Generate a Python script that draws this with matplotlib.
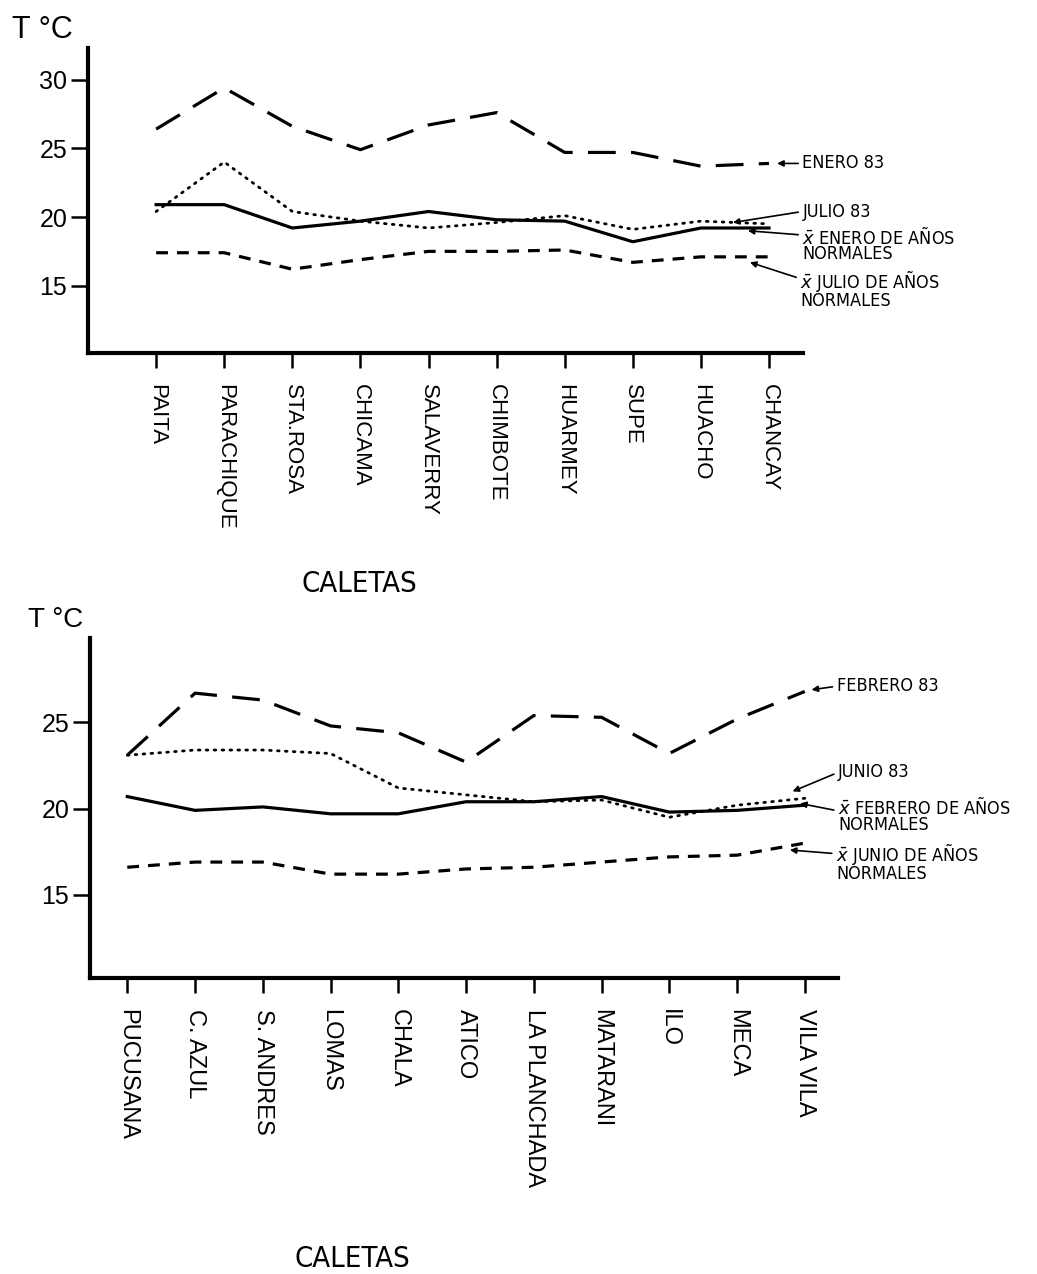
import matplotlib
matplotlib.use("Agg")
import matplotlib.pyplot as plt

plt.rcParams['font.family'] = ['Liberation Sans', 'DejaVu Sans']
plt.rcParams['lines.scale_dashes'] = False

# temperatura superficial del mar por caleta
caletas_norte = ["PAITA", "PARACHIQUE", "STA.ROSA", "CHICAMA", "SALAVERRY",
                 "CHIMBOTE", "HUARMEY", "SUPE", "HUACHO", "CHANCAY"]
enero_83 = [26.4, 29.4, 26.6, 24.9, 26.7, 27.6, 24.7, 24.7, 23.7, 23.9]
julio_83 = [20.4, 24.0, 20.4, 19.7, 19.2, 19.6, 20.1, 19.1, 19.7, 19.5]
enero_normal = [20.9, 20.9, 19.2, 19.7, 20.4, 19.8, 19.7, 18.2, 19.2, 19.2]
julio_normal = [17.4, 17.4, 16.2, 16.9, 17.5, 17.5, 17.6, 16.7, 17.1, 17.1]

caletas_sur = ["PUCUSANA", "C. AZUL", "S. ANDRES", "LOMAS", "CHALA", "ATICO",
               "LA PLANCHADA", "MATARANI", "ILO", "MECA", "VILA VILA"]
febrero_83 = [23.1, 26.7, 26.3, 24.8, 24.4, 22.7, 25.4, 25.3, 23.2, 25.2, 26.8]
junio_83 = [23.1, 23.4, 23.4, 23.2, 21.2, 20.8, 20.4, 20.5, 19.5, 20.2, 20.6]
febrero_normal = [20.7, 19.9, 20.1, 19.7, 19.7, 20.4, 20.4, 20.7, 19.8, 19.9, 20.2]
junio_normal = [16.6, 16.9, 16.9, 16.2, 16.2, 16.5, 16.6, 16.9, 17.2, 17.3, 18.0]

LARGA = dict(color='black', lw=2.3, dashes=(20, 11), dash_capstyle='butt')
PUNTOS = dict(color='black', lw=2.0, dashes=(1.2, 4.5), dash_capstyle='round')
CONTINUA = dict(color='black', lw=2.3, solid_joinstyle='round')
CORTA = dict(color='black', lw=2.3, dashes=(8.5, 6.5), dash_capstyle='butt')

ESTRECHA = dict(family='DejaVu Sans', stretch='condensed')
NOTA = dict(fontsize=13, ha='left', va='center', annotation_clip=False,
            linespacing=0.85, **ESTRECHA)


def flecha(rel):
    return dict(arrowstyle='-|>', color='black', lw=1.2, mutation_scale=9,
                shrinkA=1, shrinkB=0, relpos=rel)


def preparar(ax, nombres, yticks, tam):
    x = range(len(nombres))
    ax.set_xticks(list(x))
    ax.set_xticklabels(nombres, rotation=-90, fontsize=tam)
    ax.set_yticks(yticks)
    ax.set_yticklabels([str(v) for v in yticks], fontsize=18)
    for lado in ('top', 'right'):
        ax.spines[lado].set_visible(False)
    for lado in ('left', 'bottom'):
        ax.spines[lado].set_linewidth(3)
    ax.tick_params(axis='x', length=11, width=1.8, pad=11)
    ax.tick_params(axis='y', length=12, width=1.8, pad=3)
    return list(x)


fig = plt.figure(figsize=(10.37, 12.74), dpi=100)

# panel norte
ax1 = fig.add_axes([0.0849, 0.7229, 0.6895, 0.2394])
x1 = preparar(ax1, caletas_norte, [15, 20, 25, 30], 16)
ax1.plot(x1, enero_83, **LARGA)
ax1.plot(x1, julio_83, **PUNTOS)
ax1.plot(x1, enero_normal, **CONTINUA)
ax1.plot(x1, julio_normal, **CORTA)
ax1.set_xlim(-1.0, 9.5)
ax1.set_ylim(10.1, 32.3)

ax1.annotate("ENERO 83", xy=(9.12, 23.9), xytext=(9.49, 23.9),
             arrowprops=flecha((0, 0.5)), **NOTA)
ax1.annotate("JULIO 83", xy=(8.47, 19.6), xytext=(9.49, 20.4),
             arrowprops=flecha((0, 0.5)), **NOTA)
ax1.annotate("$\\bar{x}$ ENERO DE AÑOS\nNORMALES", xy=(8.69, 19.0), xytext=(9.49, 18.0),
             arrowprops=flecha((0, 0.75)), **NOTA)
ax1.annotate("$\\bar{x}$ JULIO DE AÑOS\nNORMALES", xy=(8.72, 16.7), xytext=(9.46, 14.75),
             arrowprops=flecha((0, 0.75)), **NOTA)

fig.text(12 / 1037, 1 - 30 / 1274, "T °C", fontsize=22, ha='left', va='center')
fig.text(359 / 1037, 1 - 584 / 1274, "CALETAS", fontsize=21,
         ha='center', va='center', **ESTRECHA)

# panel sur
ax2 = fig.add_axes([0.0868, 0.2323, 0.7213, 0.2669])
x2 = preparar(ax2, caletas_sur, [15, 20, 25], 17)
ax2.plot(x2, febrero_83, **LARGA)
ax2.plot(x2, junio_83, **PUNTOS)
ax2.plot(x2, febrero_normal, **CONTINUA)
ax2.plot(x2, junio_normal, **CORTA)
ax2.set_xlim(-0.55, 10.49)
ax2.set_ylim(10.17, 29.9)

ax2.annotate("FEBRERO 83", xy=(10.1, 26.9), xytext=(10.47, 27.1),
             arrowprops=flecha((0, 0.5)), **NOTA)
ax2.annotate("JUNIO 83", xy=(9.82, 21.0), xytext=(10.49, 22.1),
             arrowprops=flecha((0, 0.5)), **NOTA)
ax2.annotate("$\\bar{x}$ FEBRERO DE AÑOS\nNORMALES", xy=(9.93, 20.3), xytext=(10.49, 19.65),
             arrowprops=flecha((0, 0.6)), **NOTA)
ax2.annotate("$\\bar{x}$ JUNIO DE AÑOS\nNORMALES", xy=(9.78, 17.6), xytext=(10.46, 16.9),
             arrowprops=flecha((0, 0.7)), **NOTA)

fig.text(28 / 1037, 1 - 620 / 1274, "T °C", fontsize=20, ha='left', va='center')
fig.text(352 / 1037, 1 - 1259 / 1274, "CALETAS", fontsize=21,
         ha='center', va='center', **ESTRECHA)

fig.savefig("out.png", dpi=100)
